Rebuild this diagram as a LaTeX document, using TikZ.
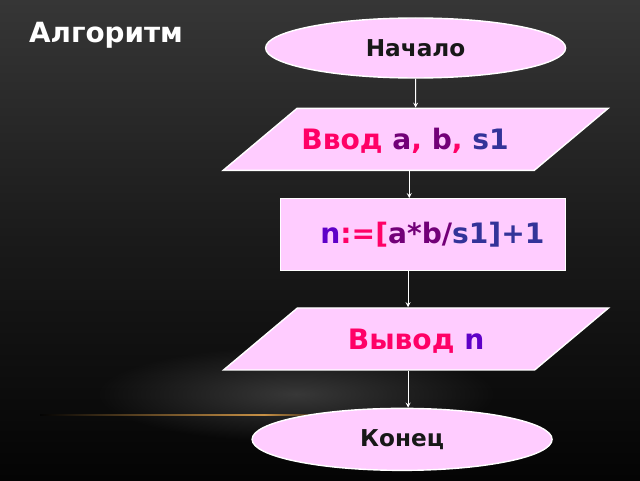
\documentclass[tikz,border=0pt]{standalone}
\usepackage{fontspec}
\setmainfont{DejaVu Sans}
\usetikzlibrary{shapes.geometric, arrows, positioning, fadings}

\definecolor{nodepink}{RGB}{255,204,255}
\definecolor{hotpink}{RGB}{255,0,102}
\definecolor{plumtext}{RGB}{115,0,120}
\definecolor{navytext}{RGB}{51,51,153}
\definecolor{violettext}{RGB}{95,0,200}
\definecolor{inktext}{RGB}{24,24,24}
\definecolor{goldline}{RGB}{200,145,70}
\definecolor{bgtop}{RGB}{54,54,54}
\definecolor{bgmid}{RGB}{26,26,26}
\definecolor{bgbot}{RGB}{4,4,4}

\tikzfading[name=glowfade, inner color=transparent!0, outer color=transparent!100]

\tikzstyle{startstop} = [ellipse, minimum width=7.5cm, minimum height=1.5cm, fill=nodepink, draw=white, line width=1pt, text=inktext, font=\fontsize{16.5}{20}\selectfont\bfseries]
\tikzstyle{inout} = [trapezium, trapezium left angle=40, trapezium right angle=140, trapezium stretches body, minimum width=9.625cm, text height=0.78cm, text depth=0.27cm, inner ysep=0.25cm, fill=nodepink, draw=white, line width=1pt, font=\fontsize{20}{24}\selectfont\bfseries]
\tikzstyle{procbox} = [rectangle, minimum width=7.125cm, minimum height=1.8cm, fill=nodepink, draw=white, line width=0.8pt, font=\fontsize{20}{24}\selectfont\bfseries]
\tikzstyle{arrow} = [line width=0.6pt, white, ->, >=stealth]

\begin{document}
\begin{tikzpicture}[node distance=0.725cm]

    % background
    \shade[top color=bgtop, bottom color=bgbot, middle color=bgmid] (0,0) rectangle (16,12);
    \fill[white!22!black, path fading=glowfade] (7.4,2.15) ellipse (5cm and 1.2cm);
    \shade[left color=bgbot, right color=goldline] (1,1.615) rectangle (6.6,1.65);
    \shade[left color=goldline, right color=bgbot] (6.6,1.615) rectangle (8.4,1.65);
    \useasboundingbox (0,0) rectangle (16,12);

    \node (title) [anchor=base west, inner sep=0, text=white, font=\fontsize{19.8}{23}\selectfont\bfseries] at (0.72,10.93) {Алгоритм};

    \node (start) [startstop] at (10.39,10.8) {Начало};
    \node (input) [inout, below=of start] {\hspace*{-15pt}\color{hotpink}Ввод {\color{plumtext}a}, {\color{plumtext}b}, {\color{navytext}s1}};
    \node (calc) [procbox, below=0.675cm of input, xshift=0.175cm] {\hspace{14pt}{\color{violettext}n}{\color{hotpink}:=[}{\color{plumtext}a*b/}{\color{navytext}s1]+1}};
    \node (output) [inout, below=0.9cm of calc, xshift=-0.1625cm] {\color{hotpink}Вывод {\color{violettext}n}};
    \node (stop) [startstop, minimum height=1.55cm, below=0.925cm of output, xshift=-0.35cm] {Конец};

    \draw [arrow] (start) -- (input);
    \draw [arrow] ([xshift=-0.16cm]input.south) -- ([xshift=-0.16cm]input.south |- calc.north);
    \draw [arrow] ([xshift=-0.2cm]output.north |- calc.south) -- ([xshift=-0.2cm]output.north);
    \draw [arrow] ([xshift=-0.2cm]output.south) -- ([xshift=-0.2cm]output.south |- stop.north);

\end{tikzpicture}
\end{document}
